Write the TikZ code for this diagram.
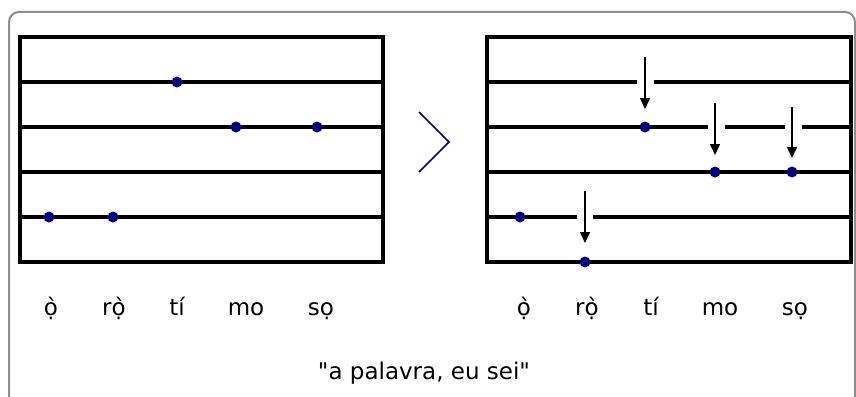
\documentclass[tikz,border=0pt]{standalone}
\usepackage{fontspec}
\setmainfont{DejaVu Sans}[Ligatures=TeXOff]
\usetikzlibrary{arrows.meta}
\definecolor{navy}{HTML}{000080}
\definecolor{framegray}{HTML}{8E8E8E}
\begin{document}
\begin{tikzpicture}[x=1pt,y=-1pt,
  staff/.style={line width=3.2pt,black},
  pitch/.style={circle,fill=navy,inner sep=0pt,minimum size=11pt},
  syl/.style={anchor=base,font=\fontsize{23}{27}\selectfont,inner sep=0pt},
  drop/.style={line width=1.5pt,-{Triangle[length=11pt,width=10pt]}},
  framebox/.style={draw=framegray,line width=2pt,rounded corners=10pt}]
\useasboundingbox (0,0) rectangle (856,396);
% outer frame
\draw[framebox] (9,410) -- (9,12) -- (855,12) -- (855,410);
% left staff
\draw[staff] (20,37) rectangle (383,262);
\foreach \y in {82,127,172,217} \draw[staff] (20,\y) -- (383,\y);
\node[pitch] (lo)  at (49,217) {};
\node[pitch] (lro) at (113,217) {};
\node[pitch] (lti) at (177,82) {};
\node[pitch] (lmo) at (236,127) {};
\node[pitch] (lso) at (317,127) {};
% chevron
\draw[navy,line width=1.5pt] (419,112) -- (449,142) -- (419,172);
% right staff
\draw[staff] (487,37) rectangle (851,262);
\draw[staff] (487,82) -- (637,82) (654,82) -- (851,82);
\draw[staff] (487,127) -- (708,127) (725,127) -- (785,127) (802,127) -- (851,127);
\draw[staff] (487,172) -- (851,172);
\draw[staff] (487,217) -- (577,217) (593,217) -- (851,217);
\node[pitch] (ro)  at (520,217) {};
\node[pitch] (rro) at (585,262) {};
\node[pitch] (rti) at (645,127) {};
\node[pitch] (rmo) at (715,172) {};
\node[pitch] (rso) at (792,172) {};
% arrows
\coordinate (ati) at (645,57);  \coordinate (eti) at (645,109);
\coordinate (amo) at (715,103); \coordinate (emo) at (715,155);
\coordinate (aso) at (792,107); \coordinate (eso) at (792,158);
\coordinate (aro) at (585,191); \coordinate (ero) at (585,243);
\draw[drop] (ati) -- (eti);
\draw[drop] (amo) -- (emo);
\draw[drop] (aso) -- (eso);
\draw[drop] (aro) -- (ero);
% syllables
\node[syl] (t1) at (51,315) {ọ̀};
\node[syl] (t2) at (114,315) {rọ̀};
\node[syl] (t3) at (177,315) {tí};
\node[syl] (t4) at (246,315) {mo};
\node[syl] (t5) at (321,315) {sọ};
\node[syl] (u1) at (524,315) {ọ̀};
\node[syl] (u2) at (587,315) {rọ̀};
\node[syl] (u3) at (651,315) {tí};
\node[syl] (u4) at (720,315) {mo};
\node[syl] (u5) at (795,315) {sọ};
\node[syl] (cap) at (424,379) {"a palavra, eu sei"};
\end{tikzpicture}
\end{document}
